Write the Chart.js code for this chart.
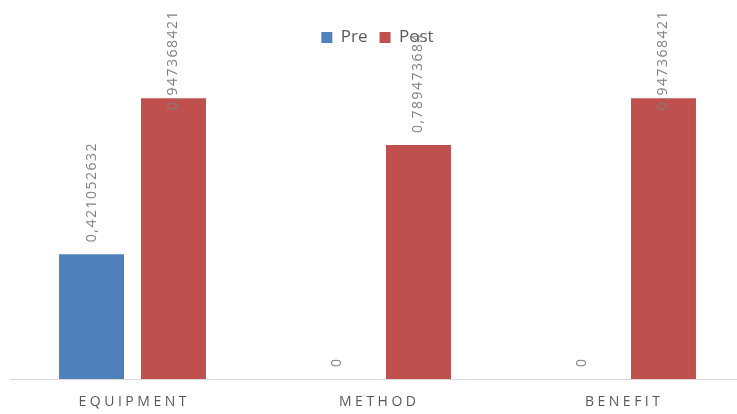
<!DOCTYPE html>
<html>
<head>
<meta charset="utf-8">
<script src="https://cdn.jsdelivr.net/npm/chart.js@4.4.1/dist/chart.umd.min.js"></script>
<style>
  html, body { margin: 0; padding: 0; background: #fff; overflow: hidden; }
  #wrap { width: 755px; height: 414px; }
</style>
</head>
<body>
<div id="wrap"><canvas id="chart"></canvas></div>
<script>
const categories = ['EQUIPMENT', 'METHOD', 'BENEFIT'];
const preValues = [0.421052632, 0, 0];
const postValues = [0.947368421, 0.789473684, 0.947368421];
const valueLabels = {
  Pre: ['0,421052632', '0', '0'],
  Post: ['0,947368421', '0,789473684', '0,947368421']
};

const textGray = '#595959';

// vertical value labels above each bar, kept inside the canvas like Excel does
const barLabels = {
  id: 'barLabels',
  afterDatasetsDraw(chart) {
    const ctx = chart.ctx;
    chart.data.datasets.forEach((ds, i) => {
      const meta = chart.getDatasetMeta(i);
      meta.data.forEach((bar, j) => {
        const txt = valueLabels[ds.label][j];
        ctx.save();
        ctx.font = '14px "Open Sans", sans-serif';
        ctx.letterSpacing = '1.5px';
        ctx.fillStyle = '#7f7f7f';
        const w = ctx.measureText(txt).width;
        let bottom = bar.y - 12;
        if (bottom - w < 10) bottom = 10 + w;
        ctx.translate(bar.x, bottom);
        ctx.rotate(-Math.PI / 2);
        ctx.textAlign = 'left';
        ctx.textBaseline = 'middle';
        ctx.fillText(txt, 0, 0);
        ctx.restore();
      });
    });
  }
};

// spaced category labels under the axis
const catLabels = {
  id: 'catLabels',
  afterDraw(chart) {
    const ctx = chart.ctx;
    const x = chart.scales.x;
    ctx.save();
    ctx.font = '14px "Open Sans", sans-serif';
    ctx.letterSpacing = '3.5px';
    ctx.fillStyle = textGray;
    ctx.textAlign = 'center';
    ctx.textBaseline = 'middle';
    categories.forEach((c, i) => {
      ctx.fillText(c, x.getPixelForValue(i) + 1.75, chart.chartArea.bottom + 23);
    });
    ctx.restore();
  }
};

new Chart(document.getElementById('chart'), {
  type: 'bar',
  data: {
    labels: categories,
    datasets: [
      { label: 'Pre', data: preValues, backgroundColor: '#4F81BD' },
      { label: 'Post', data: postValues, backgroundColor: '#C0504D' }
    ]
  },
  options: {
    responsive: true,
    maintainAspectRatio: false,
    animation: false,
    categoryPercentage: 0.669,
    barPercentage: 0.793,
    layout: { padding: { top: 17, left: 10, right: 10, bottom: 35 } },
    plugins: {
      tooltip: { enabled: false },
      legend: {
        position: 'top',
        labels: {
          boxWidth: 11,
          boxHeight: 11,
          padding: 12,
          color: textGray,
          font: { size: 17, family: '"Open Sans", sans-serif' }
        }
      }
    },
    scales: {
      x: {
        grid: { display: false, drawTicks: false },
        border: { display: true, color: '#d9d9d9', width: 1 },
        ticks: { display: false }
      },
      y: {
        display: false,
        min: 0,
        max: 1.09
      }
    }
  },
  plugins: [barLabels, catLabels]
});
</script>
</body>
</html>
